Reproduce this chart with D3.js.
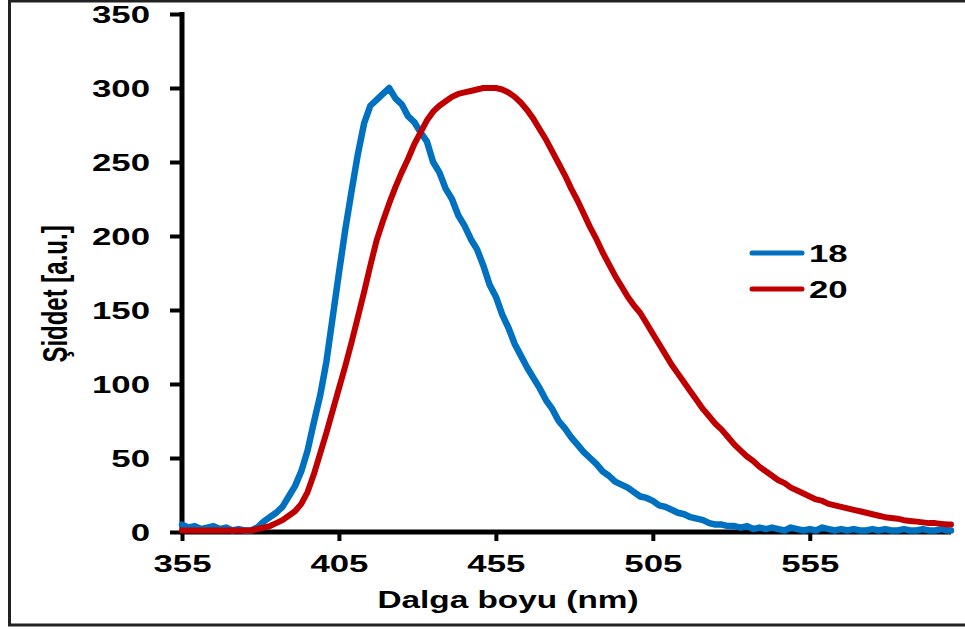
<!DOCTYPE html>
<html>
<head>
<meta charset="utf-8">
<script src="https://cdn.jsdelivr.net/npm/d3@7"></script>
<style>
  html, body { margin: 0; padding: 0; background: #fff; }
  svg { display: block; }
  text { font-family: "Liberation Sans", Arial, sans-serif; font-weight: bold; fill: #000; }
</style>
</head>
<body>
<svg id="chart" width="965" height="630"></svg>
<script>
// Emission spectra: wavelength (nm) vs intensity (a.u.)
const wavelengths = [
  355,357,359,361,363,365,367,369,371,373,375,377,379,381,383,385,387,389,391,393,
  395,397,399,401,403,405,407,409,411,413,415,417,419,421,423,425,427,429,431,433,
  435,437,439,441,443,445,447,449,451,453,455,457,459,461,463,465,467,469,471,473,
  475,477,479,481,483,485,487,489,491,493,495,497,499,501,503,505,507,509,511,513,
  515,517,519,521,523,525,527,529,531,533,535,537,539,541,543,545,547,549,551,553,
  555,557,559,561,563,565,567,569,571,573,575,577,579,581,583,585,587,589,591,593,
  595,597,599,600
];

const series18 = [
  5,3,4,2,3,4,2,3,1,2,1,1,3,7,10,13,17,24,31,41,
  55,74,92,115,145,175,204,230,255,276,288,292,296,300,293,289,281,277,270,264,
  250,243,232,225,214,207,198,191,180,167,159,147,138,127,119,111,104,97,89,83,
  75,70,64,59,54,50,46,41,38,34,32,30,27,24,23,21,18,17,15,13,
  12,10,9,8,6,5,5,4,4,3,4,2,3,2,3,2,1,3,2,1,
  2,1,3,2,1,2,1,2,1,1,2,1,2,1,1,2,1,1,2,1,
  1,2,1,1
];

const series20 = [
  1,1,1,1,1,1,1,1,1,1,1,1,2,3,4,6,8,11,14,19,
  27,39,53,67,82,97,112,128,145,162,180,197,210,222,233,243,252,262,270,278,
  284,288,291,294,296,297,298,299,300,300,300,299,297,294,290,285,279,272,265,257,
  249,241,232,224,215,206,198,189,181,173,166,159,153,148,141,134,127,120,113,107,
  101,95,89,83,78,73,69,64,59,55,51,48,44,41,38,35,33,30,28,26,
  24,22,21,19,18,17,16,15,14,13,12,11,10,9.5,9,8,7.5,7,6.5,6,
  6,5.5,5,5
];

const seriesNames = ["18", "20"];
const seriesColors = ["#0070C0", "#C00000"];
const xTicks = [355, 405, 455, 505, 555];
const yTicks = [0, 50, 100, 150, 200, 250, 300, 350];
const xTitle = "Dalga boyu (nm)";
const yTitle = "Şiddet [a.u.]";

const stretch = 1.45; // horizontal widening of all lettering

const svg = d3.select("#chart");

// outer frame (top, left and bottom rules)
svg.append("path")
  .attr("d", "M965,1 H9.5 V625 H965")
  .attr("fill", "none")
  .attr("stroke", "#222")
  .attr("stroke-width", 3);

const x = d3.scaleLinear().domain([355, 600]).range([182, 951]);
const y = d3.scaleLinear().domain([0, 350]).range([532, 14]);

// y axis
const gy = svg.append("g")
  .attr("transform", `translate(${x(355)},0)`)
  .call(d3.axisLeft(y).tickValues(yTicks).tickSize(12).tickSizeOuter(0).tickFormat(d3.format("d")));
gy.select(".domain").attr("stroke", "#000").attr("stroke-width", 5)
  .attr("d", `M0,${y(0) + 2}V${y(350) - 2}`);
gy.selectAll(".tick line").attr("stroke", "#000").attr("stroke-width", 4);
gy.selectAll(".tick text")
  .attr("x", -32 / stretch)
  .attr("dy", "0.36em")
  .attr("transform", `scale(${stretch},1)`)
  .style("font-size", "24px");

// x axis
const gx = svg.append("g")
  .attr("transform", `translate(0,${y(0)})`)
  .call(d3.axisBottom(x).tickValues(xTicks).tickSize(9).tickSizeOuter(0).tickFormat(d3.format("d")));
gx.select(".domain").attr("stroke", "#000").attr("stroke-width", 5)
  .attr("d", `M${x(355) - 2},0H${x(600)}`);
gx.selectAll(".tick line").attr("stroke", "#000").attr("stroke-width", 4);
// widening is applied around each tick's own origin, so labels stay centred
gx.selectAll(".tick text")
  .attr("x", 0)
  .attr("y", 40)
  .attr("dy", 0)
  .attr("transform", `scale(${stretch},1)`)
  .style("font-size", "24px");

// axis titles
svg.append("text")
  .attr("transform", `translate(508,608) scale(${stretch},1)`)
  .attr("text-anchor", "middle")
  .style("font-size", "23px")
  .text(xTitle);

svg.append("text")
  .attr("transform", `translate(67,294) scale(${stretch},1) rotate(-90)`)
  .attr("text-anchor", "middle")
  .style("font-size", "24px")
  .text(yTitle);

// spectra
const line = d3.line()
  .x((d, i) => x(wavelengths[i]))
  .y(d => y(d));

[series18, series20].forEach((vals, k) => {
  svg.append("path")
    .datum(vals)
    .attr("d", line)
    .attr("fill", "none")
    .attr("stroke", seriesColors[k])
    .attr("stroke-width", k === 0 ? 6.5 : 6)
    .attr("stroke-linejoin", "round")
    .attr("stroke-linecap", "round");
});

// legend
const legend = svg.append("g");
seriesNames.forEach((name, k) => {
  const ly = 253 + k * 36;
  legend.append("line")
    .attr("x1", 752).attr("x2", 802)
    .attr("y1", ly).attr("y2", ly)
    .attr("stroke", seriesColors[k])
    .attr("stroke-width", 5)
    .attr("stroke-linecap", "round");
  legend.append("text")
    .attr("transform", `translate(809,${ly + 9}) scale(${stretch},1)`)
    .style("font-size", "24px")
    .text(name);
});
</script>
</body>
</html>
